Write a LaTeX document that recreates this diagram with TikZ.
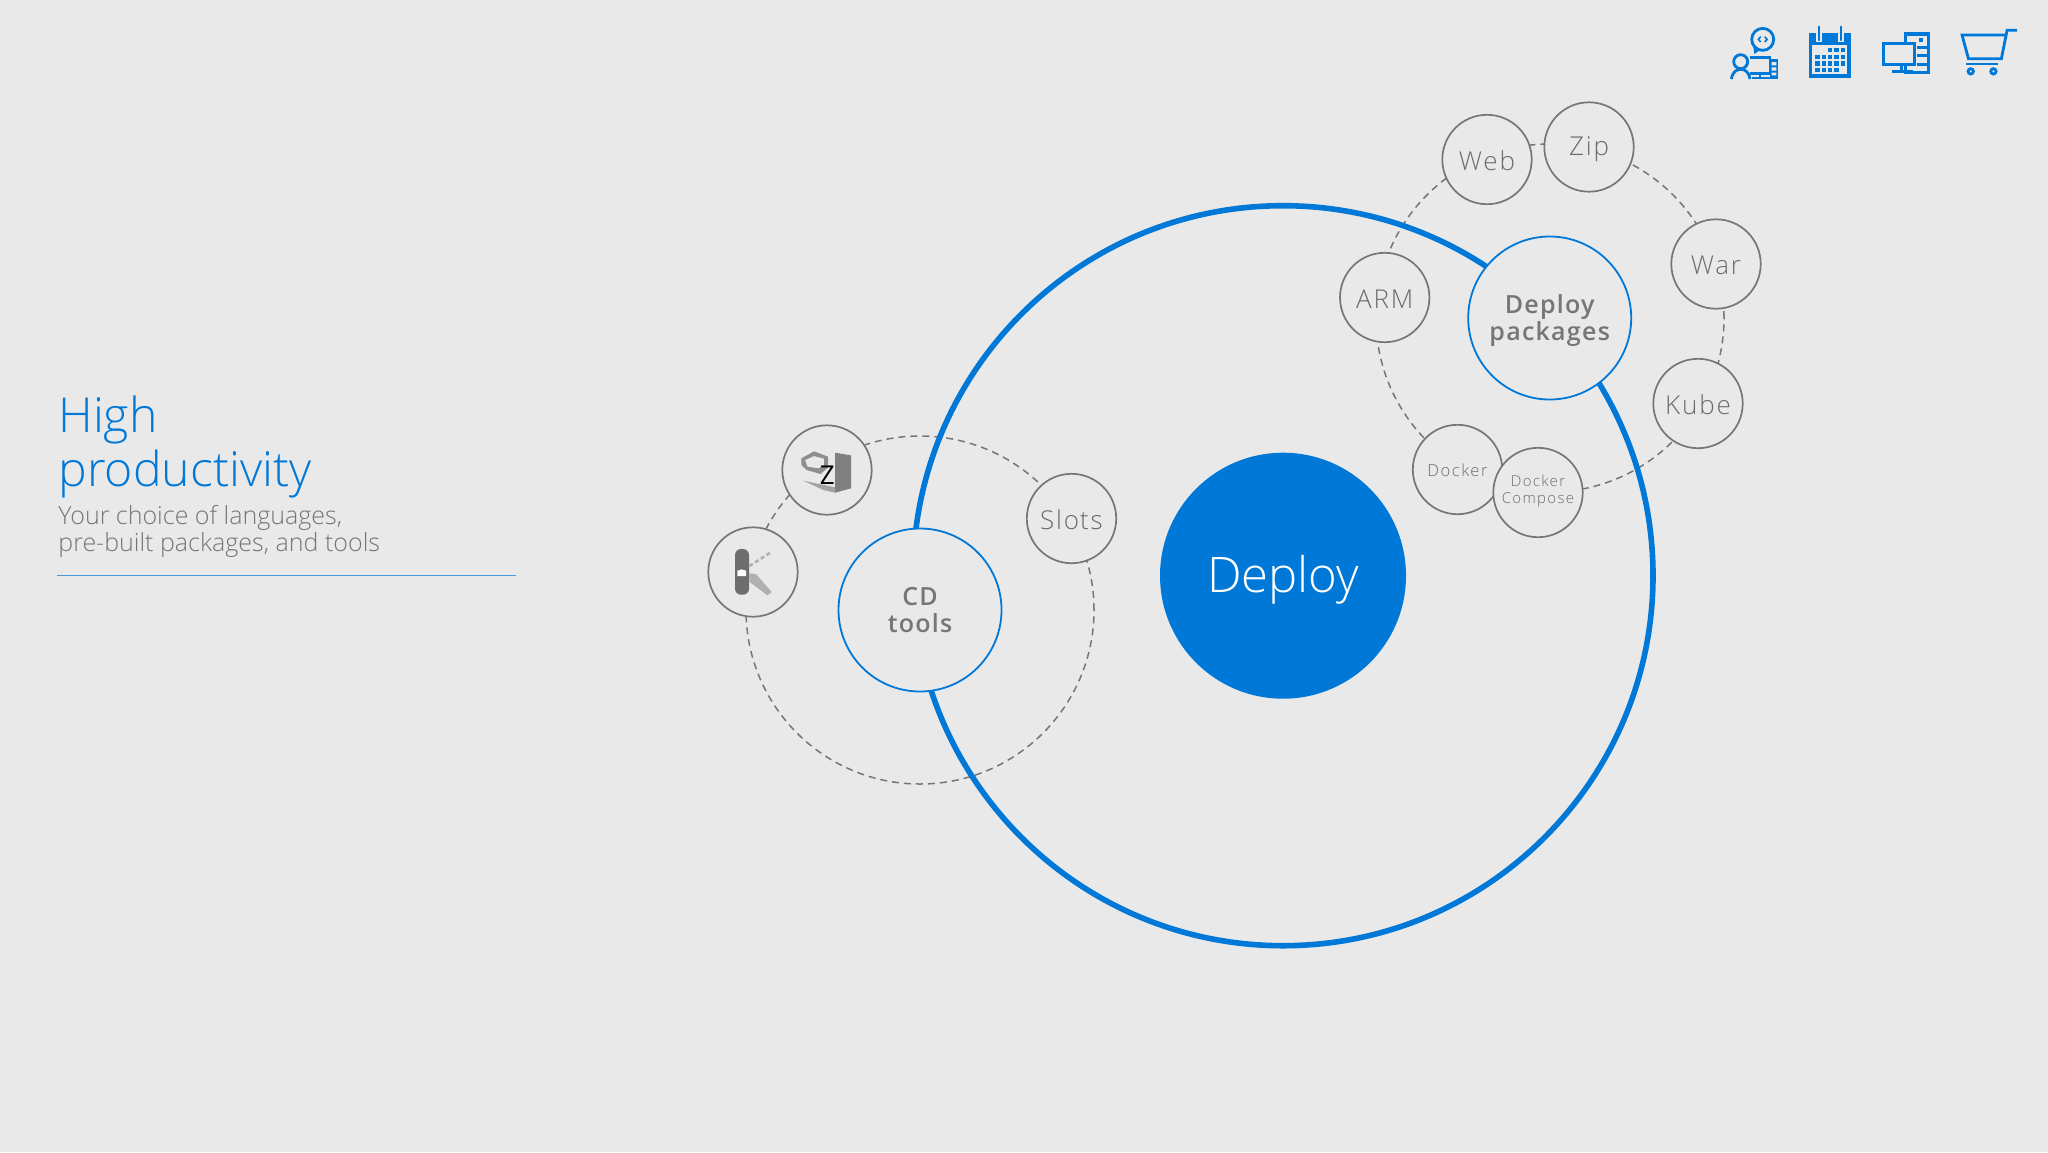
\documentclass[tikz,border=0pt]{standalone}
\usepackage{fontspec}
\setmainfont{Open Sans}[UprightFont=* Light,BoldFont=* Semibold]
\newfontfamily\regf{Open Sans}
\definecolor{bgc}{HTML}{E9E9EA}
\definecolor{msblue}{HTML}{0078D7}
\definecolor{greyc}{HTML}{767676}
\definecolor{textc}{HTML}{6C6C6C}
\definecolor{iconA}{HTML}{808080}
\definecolor{iconB}{HTML}{B0B0B0}
\tikzset{
  ringc/.style={circle,draw=greyc,line width=.75pt,dash pattern=on 3.5pt off 2.5pt,minimum size=174pt,inner sep=0pt},
  hub/.style={circle,draw=msblue,line width=.9pt,fill=bgc,minimum size=81.5pt,inner sep=0pt,text=greyc,align=center,font=\fontsize{12.5}{13.6}\selectfont\bfseries\addfontfeature{LetterSpace=5},text height=22.8pt,text depth=0pt},
  itemc/.style={circle,draw=greyc,line width=.85pt,fill=bgc,minimum size=44.7pt,inner sep=0pt,text=textc,align=center,font=\fontsize{13}{13}\selectfont\addfontfeature{LetterSpace=7},text height=10.7pt,text depth=0pt},
  tinya/.style={font=\fontsize{8.3}{8.6}\selectfont\addfontfeature{LetterSpace=9},text height=7pt},
  tinyb/.style={font=\fontsize{7.5}{8.6}\selectfont\addfontfeature{LetterSpace=9},text height=11pt},
  ibl/.style={draw=msblue,line width=1.4pt},
  txt/.style={anchor=base west,inner sep=0pt}
}
\begin{document}
\begin{tikzpicture}[x=.5pt,y=-.5pt]
\useasboundingbox[fill=bgc] (0,0) rectangle (2048,1152);
% dashed rings
\node[ringc] (ringA) at (1550,318) {};
\node[ringc] (ringB) at (920,610) {};
% main circle
\node[circle,draw=msblue,line width=2.8pt,minimum size=370pt,inner sep=0pt] (outer) at (1283,575.7) {};
\node[circle,fill=msblue,minimum size=123pt,inner sep=0pt,text=white,font=\fontsize{24.5}{24.5}\selectfont,text height=16.6pt,text depth=0pt] (deploy) at (1283,575.7) {Deploy};
% hubs
\node[hub] (pack) at (1549.7,318) {Deploy\\packages};
\node[hub] (cd) at (920,610) {CD\\tools};
% items
\node[itemc] (web) at (1487,159.5) {Web};
\node[itemc,text height=8.6pt] (zip) at (1589,147) {Zip};
\node[itemc] (war) at (1716,264) {War};
\node[itemc] (kube) at (1698,403.5) {Kube};
\node[itemc] (arm) at (1384.7,297.5) {ARM};
\node[itemc,tinya] (docker) at (1457.5,469.5) {Docker};
\node[itemc,tinyb] (compose) at (1538,492.5) {Docker\\Compose};
\node[itemc] (slots) at (1071.5,518.5) {Slo\hspace{.5pt}ts};
\node[itemc] (toolA) at (827,470) {};
\node[itemc] (toolB) at (753,572) {};
% title
\node[txt,text=msblue,font=\fontsize{24.1}{24.1}\selectfont] (t1) at (58,432) {High};
\node[txt,text=msblue,font=\fontsize{24.1}{24.1}\selectfont] (t2) at (58,486) {productivity};
\node[txt,text=greyc,font=\fontsize{12.5}{12.5}\selectfont] (s1) at (58,524) {Your choice of languages,};
\node[txt,text=greyc,font=\fontsize{12.5}{12.5}\selectfont] (s2) at (58,551) {pre-built packages, and tools};
\draw[msblue!70!bgc,line width=.7pt] (57,575.7) -- (516,575.7);
% tool icon A
\begin{scope}[shift={(690,410)},x=.1667pt,y=-.1667pt]
  \fill[iconA] (435,128) -- (483,136) -- (483,235) -- (435,248) -- cycle;
  \fill[iconB!70!iconA] (340,212) -- (435,232) -- (435,248) -- (400,240) -- cycle;
  \fill[iconA!70!iconB,even odd rule] (334,145) -- (372,124) -- (414,140) -- (414,172) -- (392,192) -- (350,180) -- (334,165) -- cycle
     (345,150) -- (372,138) -- (402,146) -- (402,166) -- (385,175) -- (352,170) -- cycle;
  \node[font=\regf\fontsize{13}{13}\selectfont,text=black,inner sep=0pt] (zed) at (412,197) {Z};
\end{scope}
% tool icon B
\begin{scope}[shift={(690,410)},x=.1667pt,y=-.1667pt]
  \fill[iconB] (178,490) -- (198,492) -- (245,546) -- (232,556) -- (178,515) -- cycle;
  \draw[iconB,line width=1.3pt,dash pattern=on 2pt off 1.4pt] (178,468) -- (245,425);
  \fill[iconA!85!black,rounded corners=3pt] (135,417) rectangle (177,554);
  \fill[white] (142,482) -- (155,478) -- (168,482) -- (168,498) -- (142,498) -- cycle;
\end{scope}
% top icons
\begin{scope}[shift={(1700,10)},x=.1667pt,y=-.1667pt]
  % developer
  \draw[ibl] (188,88) circle[radius=33];
  \fill[msblue] (160,108) -- (163,132) -- (182,119) -- cycle;
  \draw[msblue,line width=.8pt] (182,80) -- (175,88) -- (182,96) (194,80) -- (201,88) -- (194,96);
  \draw[ibl] (150,143) -- (210,143) -- (210,190) -- (150,190);
  \fill[msblue] (210,148) rectangle (234,208);
  \fill[bgc] (215,156) rectangle (229,166) (215,172) rectangle (229,182) (215,188) rectangle (229,196);
  \draw[ibl] (155,204) -- (210,204) (180,190) -- (180,204);
  \draw[ibl,fill=bgc] (122,155) circle[radius=21];
  \draw[ibl] (94,207) .. controls (98,185) and (110,178) .. (122,178) .. controls (135,178) and (146,185) .. (150,207);
  % calendar
  \fill[msblue] (326,70) rectangle (453,203);
  \fill[bgc] (337,105) rectangle (442,192);
  \foreach \xx/\yy in {390/120,409/120,428/120,
    352/140,372/140,390/140,409/140,428/140,
    352/160,372/160,390/160,409/160,428/160,
    352/180,372/180,390/180,409/180}{
    \fill[msblue] (\xx-6.5,\yy-6.5) rectangle (\xx+6.5,\yy+6.5);}
  \draw[bgc,line width=3pt] (356,60) -- (356,96) (422,60) -- (422,96);
  \draw[msblue,line width=1pt,line cap=round] (356,50) -- (356,90) (422,50) -- (422,90);
  % computers
  \draw[ibl] (616,69) rectangle (686,188);
  \fill[msblue] (613,66) rectangle (689,78);
  \fill[msblue] (656,84) rectangle (669,97);
  \draw[msblue,line width=1.2pt] (650,112) -- (686,112) (650,136) -- (686,136) (650,164) -- (686,164);
  \draw[ibl,fill=bgc] (550,100) rectangle (644,164);
  \draw[ibl] (604,165) -- (604,184);
  \draw[ibl] (577,184) -- (640,184);
  % cart
  \draw[ibl,line join=miter] (951,61) -- (921,61) -- (904,146) -- (805,146) -- (786,75) -- (918,75);
  \draw[msblue,line width=1pt] (797,163) -- (895,163);
  \draw[ibl] (812,184) circle[radius=8];
  \draw[ibl] (880,184) circle[radius=8];
\end{scope}
\end{tikzpicture}
\end{document}
